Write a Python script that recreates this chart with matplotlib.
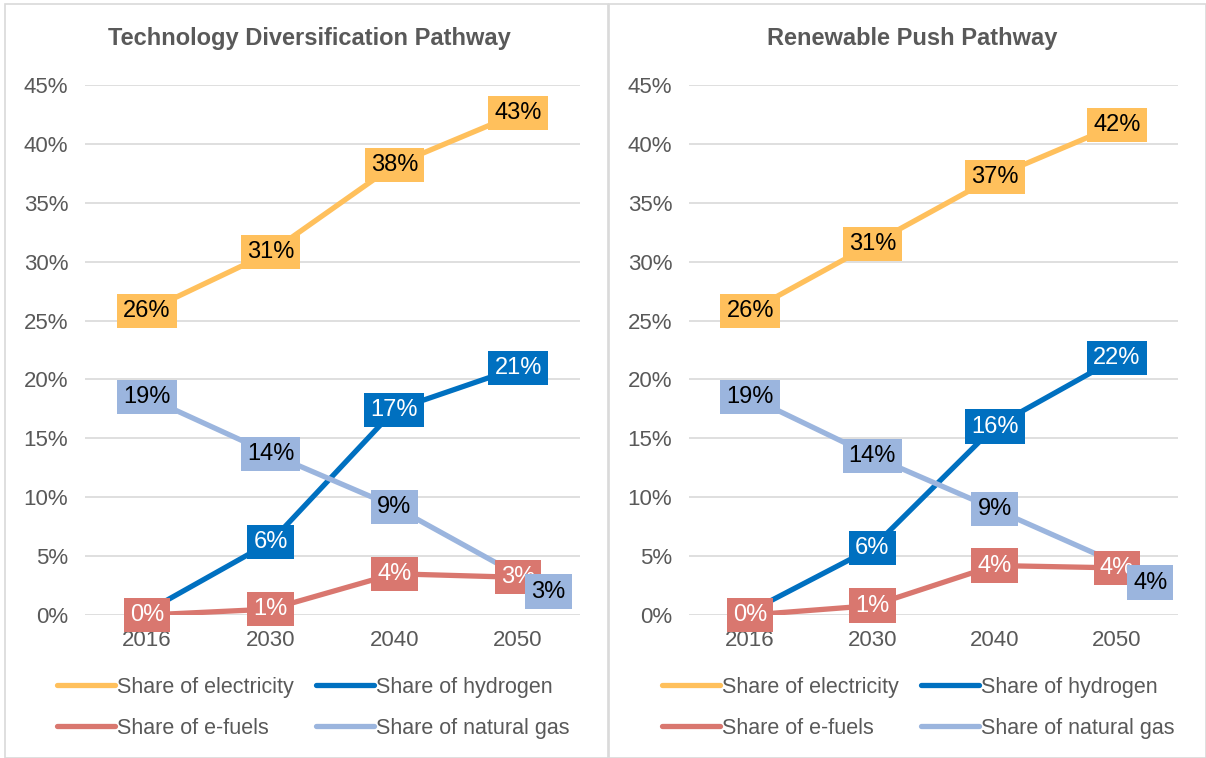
import numpy as np
import matplotlib
matplotlib.use("Agg")
from matplotlib import pyplot as plt
from matplotlib.patches import Rectangle

plt.rcParams['font.family'] = ['Liberation Sans', 'DejaVu Sans']

# =============================================================================
# Data
# =============================================================================
years = ['2016', '2030', '2040', '2050']
series_names = ['Share of electricity', 'Share of hydrogen',
                'Share of e-fuels', 'Share of natural gas']

# Technology Diversification Pathway (fractions)
tdp_electricity = [0.258, 0.308, 0.382, 0.426]
tdp_hydrogen = [0.003, 0.062, 0.174, 0.210]
tdp_efuels = [0.000, 0.005, 0.035, 0.032]
tdp_gas = [0.185, 0.137, 0.092, 0.034]

# Renewable Push Pathway (fractions)
rpp_electricity = [0.258, 0.315, 0.372, 0.416]
rpp_hydrogen = [0.003, 0.057, 0.160, 0.218]
rpp_efuels = [0.000, 0.008, 0.042, 0.040]
rpp_gas = [0.185, 0.135, 0.090, 0.044]

# labels shown in the boxes
tdp_labels = [['26%', '31%', '38%', '43%'], ['', '6%', '17%', '21%'],
              ['0%', '1%', '4%', '3%'], ['19%', '14%', '9%', '3%']]
rpp_labels = [['26%', '31%', '37%', '42%'], ['', '6%', '16%', '22%'],
              ['0%', '1%', '4%', '4%'], ['19%', '14%', '9%', '4%']]

colors = ['#FFC05C', '#0070C0', '#D9776F', '#9BB5DE']
text_colors = ['black', 'white', 'white', 'black']
grey = '#595959'

fig = plt.figure(figsize=(12.06, 7.58), dpi=100)

# panel borders
W, H = 1206., 758.
fig.patches.append(Rectangle((5 / W, 0), 603 / W, 754 / H, transform=fig.transFigure,
                             fill=False, ec='#d9d9d9', lw=1.2))
fig.patches.append(Rectangle((609 / W, 0), 597 / W, 754 / H, transform=fig.transFigure,
                             fill=False, ec='#d9d9d9', lw=1.2))


def draw_panel(rect, title, title_x, data, labels, legend_x, gas_off):
    ax = fig.add_axes(rect)
    x = np.arange(len(years))
    for i, vals in enumerate(data):
        ax.plot(x, vals, color=colors[i], lw=3.8, solid_capstyle='round',
                label=series_names[i], zorder=3 + i * 0.1)
    # data labels on top of all lines
    for i, vals in enumerate(data):
        for j, v in enumerate(vals):
            if labels[i][j] == '':
                continue
            off = (0, 0)
            # natural gas in 2050 is put on the right of the point
            if i == 3 and j == 3:
                off = gas_off
            ax.annotate(labels[i][j], (x[j], v), xytext=off,
                        textcoords='offset points', ha='center', va='center',
                        fontsize=17, color=text_colors[i], zorder=10 + i,
                        bbox=dict(boxstyle='square,pad=0.26', fc=colors[i],
                                  ec='none'))
    ax.set_xlim(-0.5, len(years) - 0.5)
    ax.set_ylim(0, 0.45)
    ax.set_yticks(np.arange(0, 0.46, 0.05))
    ax.set_yticklabels(['{:.0f}%'.format(t * 100) for t in np.arange(0, 0.46, 0.05)])
    ax.set_xticks(x)
    ax.set_xticklabels(years)
    ax.tick_params(length=0, labelsize=16, colors=grey)
    ax.tick_params(axis='y', pad=12)
    ax.tick_params(axis='x', pad=11)
    ax.grid(axis='y', color='#d9d9d9', lw=1.2)
    ax.set_axisbelow(True)
    for s in ax.spines.values():
        s.set_visible(False)
    fig.text(title_x, 1 - 38 / H, title, ha='center', va='center',
             fontsize=17, fontweight='bold', color=grey)
    h, l = ax.get_legend_handles_labels()
    order = [0, 2, 1, 3]
    fig.legend([h[k] for k in order], [l[k] for k in order], ncol=2,
               loc='upper left', bbox_to_anchor=(legend_x, 1 - 677 / H),
               frameon=False, fontsize=15.5, handlelength=2.7, handletextpad=0.1,
               columnspacing=1.0, labelspacing=0.92, borderaxespad=0,
               borderpad=0, labelcolor=grey)
    return ax


draw_panel([85 / W, 1 - 615 / H, 495 / W, 530 / H],
           'Technology Diversification Pathway', 309 / W,
           [tdp_electricity, tdp_hydrogen, tdp_efuels, tdp_gas], tdp_labels,
           57 / W, (22, -12))
draw_panel([689 / W, 1 - 615 / H, 489 / W, 530 / H],
           'Renewable Push Pathway', 912 / W,
           [rpp_electricity, rpp_hydrogen, rpp_efuels, rpp_gas], rpp_labels,
           662 / W, (24, -14))

fig.savefig('out.png', dpi=100)
